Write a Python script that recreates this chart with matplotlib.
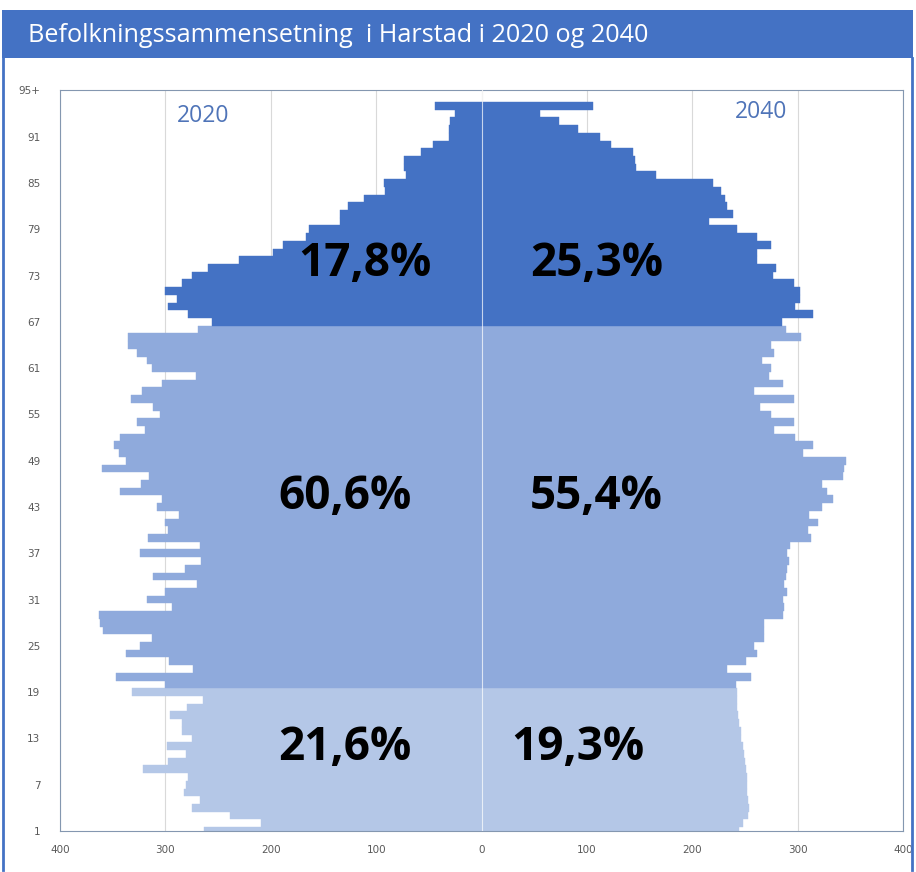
import numpy as np
import matplotlib.pyplot as plt
from matplotlib.patches import Rectangle
from matplotlib.lines import Line2D

# ages 1..95 (95 = "95+")
ages = np.arange(1, 96)

pop_2020 = [263.5, 209, 238.5, 274.3, 267, 281.9, 280.6, 278.4, 321.1, 297.1,
            280, 298.7, 274.9, 283.8, 283.8, 295.5, 279.6, 264.1, 331.3, 300.5,
            346.5, 273.6, 296.4, 337.6, 324.3, 312.3, 358.8, 362, 362.9, 293.9,
            317.6, 300.2, 270.1, 311.6, 281.2, 266.3, 324.3, 267.3, 316.1, 297.1,
            300.2, 286.9, 307.5, 303.1, 342.7, 323, 315.4, 360.4, 337.3, 344,
            348.7, 342.7, 319.6, 327.2, 305.3, 311.3, 332.9, 322.1, 303.1, 271.1,
            312.6, 317, 327.2, 335.4, 335.4, 268.9, 255.9, 279, 297.1, 288.5,
            300.2, 283.8, 275, 260, 230, 198.3, 188.4, 166.9, 163.7, 134.6,
            134.6, 127, 111.8, 91.5, 93, 72, 74, 74, 57.6, 45.9,
            31, 30.7, 29.5, 25, 44]

pop_2040 = [244.5, 248.3, 253, 254, 253, 252.4, 252.1, 251.5, 250.8, 249.9,
            248.9, 247.7, 246.7, 245.8, 244.5, 243.6, 242.6, 242, 242, 241.3,
            255.6, 233.1, 250.8, 261.9, 258.7, 267.9, 267.9, 267.9, 286.3, 287.2,
            286.3, 289.5, 287.2, 288.5, 289.5, 292, 290.1, 292.6, 312.6, 310.1,
            318.9, 311, 322.7, 333.8, 327.5, 323.4, 342.7, 344.3, 345.8, 305.3,
            314.2, 297.4, 277.4, 296.4, 275.2, 264.1, 296.4, 258.4, 286.3, 273,
            275.2, 266.3, 277.8, 274.6, 303.1, 288.8, 284.7, 314.8, 297.4, 302.1,
            302.1, 296.4, 276.8, 279.3, 261.6, 261.6, 274.3, 261.6, 242.9, 216,
            238.8, 233.1, 230.9, 227.7, 219.8, 166, 147, 146, 143.8, 123.2,
            112, 91.5, 73.5, 55.7, 105.8]

group_limits = [19, 66]   # last age in the young / working-age groups
group_colors = ['#B4C7E7', '#8FAADC', '#4472C4']
share_2020 = ['21,6%', '60,6%', '17,8%']
share_2040 = ['19,3%', '55,4%', '25,3%']

ytick_pos = list(range(1, 92, 6)) + [97.05]
ytick_lab = [str(a) for a in range(1, 92, 6)] + ['95+']
xticks = list(range(-400, 401, 100))

colors = [group_colors[np.searchsorted(group_limits, a)] for a in ages]

W, H = 916, 872
fig = plt.figure(figsize=(W / 100, H / 100), dpi=100)
fig.patch.set_facecolor('white')

ax = fig.add_axes([60 / W, 1 - 831 / H, (903 - 60) / W, (831 - 90) / H])

ax.barh(ages, -np.array(pop_2020), height=1.0, color=colors, edgecolor=colors, linewidth=0.3, zorder=2)
ax.barh(ages, pop_2040, height=1.0, color=colors, edgecolor=colors, linewidth=0.3, zorder=2)
ax.axvline(0, color='white', lw=0.8, alpha=0.7, zorder=3)

ax.set_xlim(-400, 400)
ax.set_ylim(1, 97.05)
ax.set_xticks(xticks)
ax.set_xticklabels([str(abs(v)) for v in xticks])
ax.set_yticks(ytick_pos)
ax.set_yticklabels(ytick_lab)
ax.tick_params(length=0, colors='#595959', labelsize=7.5)
ax.tick_params(axis='y', pad=14)
ax.tick_params(axis='x', pad=10)
ax.set_axisbelow(True)
ax.xaxis.grid(True, color='#D9D9D9', lw=0.8)
for s in ax.spines.values():
    s.set_color('#8497B0')
    s.set_linewidth(0.8)

# year labels
ax.text(-264, 93.7, '2020', ha='center', va='center', fontsize=16.5, color='#4F74B8', family='Open Sans')
ax.text(265, 94.2, '2040', ha='center', va='center', fontsize=16.5, color='#4F74B8', family='Open Sans')

# group shares
share_y = [11.8, 44.3, 74.6]
left_x = [-130, -130, -111]
right_x = [91, 109, 109]
for i in range(3):
    ax.text(left_x[i], share_y[i], share_2020[i], ha='center', va='center', fontsize=33,
            fontweight='bold', family='Open Sans', color='black', zorder=4)
    ax.text(right_x[i], share_y[i], share_2040[i], ha='center', va='center', fontsize=33,
            fontweight='bold', family='Open Sans', color='black', zorder=4)

# title bar and frame
fig.add_artist(Rectangle((2 / W, 1 - 58 / H), 911 / W, 48 / H, transform=fig.transFigure,
                         facecolor='#4472C4', edgecolor='none'))
fig.text(28 / W, 1 - 35 / H, 'Befolkningssammensetning  i Harstad i 2020 og 2040', ha='left', va='center',
         color='white', fontsize=18.2, family='Open Sans')
for xp in (3, 912):
    fig.add_artist(Line2D([xp / W, xp / W], [1 - 870 / H, 1 - 58 / H], transform=fig.transFigure,
                          color='#4472C4', lw=2))

fig.savefig('out.png', dpi=100)
